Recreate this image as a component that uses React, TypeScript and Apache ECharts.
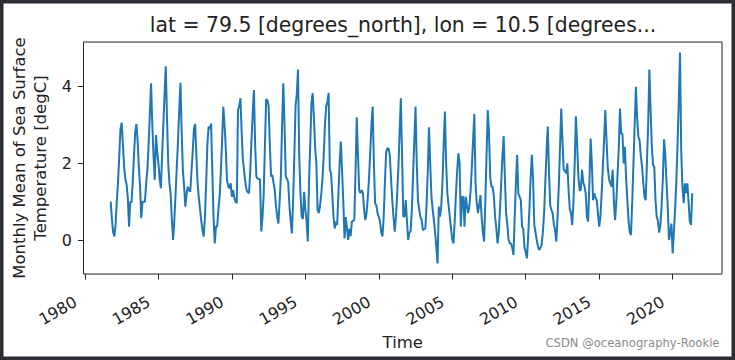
import React, { useEffect, useRef } from "react";
import * as echarts from "echarts";

// First monthly sample (decimal year) — monthly means from autumn 1981
const startYear = 1981.75;

// Monthly mean SST [degC], grouped by period
const sst1981to1989 = [
  1.0, 0.55, 0.2,
  0.09, 0.4, 1.0, 1.5, 2.2, 2.9, 3.06, 2.5, 1.9, 1.6, 1.45, 1.1,
  0.35, 1.0, 0.98, 1.5, 2.2, 2.8, 3.03, 2.6, 1.9, 1.4, 0.57, 1.0,
  1.0, 1.0, 1.5, 1.83, 2.5, 3.3, 4.09, 3.0, 2.2, 1.57, 2.74, 2.3,
  2.0, 1.6, 1.35, 2.2, 3.0, 3.8, 4.53, 3.2, 2.0, 1.48, 1.2, 0.5,
  0.0, 0.5, 1.2, 1.9, 2.6, 3.4, 4.1, 2.8, 1.8, 1.39, 0.87, 1.2,
  1.39, 1.3, 1.26, 1.8, 2.3, 2.9, 3.03, 2.2, 1.48, 1.1, 0.8, 0.5,
  0.25, 0.09, 0.6, 1.5, 2.5, 2.96, 2.9, 3.04, 1.8, 0.6, -0.09, 0.35,
  0.35, 0.8, 1.13, 1.78, 2.6, 3.48, 3.0, 2.4, 1.57, 1.4, 1.35, 1.48,
];

const sst1990s = [
  1.13, 1.3, 1.1, 1.0, 0.96, 3.39, 3.5, 3.7, 2.8, 2.09, 1.8, 1.5,
  1.3, 1.25, 1.22, 1.8, 2.6, 3.3, 3.91, 2.5, 1.65, 1.6, 1.6, 1.57,
  0.22, 0.6, 1.2, 2.5, 3.67, 3.65, 3.5, 2.5, 1.65, 1.7, 1.5, 1.3,
  0.9, 0.6, 0.43, 1.0, 1.65, 3.0, 4.09, 3.0, 1.65, 1.6, 1.5, 0.9,
  0.5, 0.17, 1.0, 2.2, 3.5, 3.8, 4.45, 2.2, 1.22, 0.61, 0.55, 1.26,
  0.8, 0.48, -0.04, 1.5, 2.5, 3.57, 3.83, 3.2, 2.4, 2.0, 0.78, 0.7,
  0.9, 1.2, 1.6, 2.2, 3.0, 3.48, 3.6, 3.84, 1.83, 1.74, 1.2, 0.6,
  0.3, 0.48, 0.39, 1.2, 2.0, 2.57, 1.8, 1.0, 0.04, 0.6, 0.3, 0.0,
  0.3, 0.1, 0.48, 0.5, 0.52, 1.8, 3.2, 2.2, 1.3, 1.22, 1.3, 1.22,
  0.8, 0.52, 0.7, 1.1, 1.6, 2.3, 3.0, 3.48, 2.0, 0.96, 0.9, 0.7,
];

const sst2000s = [
  0.6, 0.48, 0.2, 0.09, 0.6, 1.5, 2.3, 2.39, 2.39, 2.2, 1.6, 1.04,
  0.6, 0.22, 0.6, 1.2, 1.9, 2.8, 3.7, 2.2, 0.61, 0.61, 1.04, 0.5,
  0.0, 0.2, 0.22, 0.8, 1.7, 2.6, 3.48, 2.0, 1.04, 0.8, 0.6, 0.52,
  0.26, 0.28, 0.3, 0.9, 1.8, 2.94, 2.0, 1.13, 0.8, 0.52, 0.2, -0.2,
  -0.61, 0.87, 0.61, 0.87, 1.5, 2.5, 3.35, 2.0, 1.22, 0.9, 0.61, 0.3,
  0.0, -0.09, 0.5, 1.2, 1.8, 2.26, 2.0, 0.35, 1.13, 1.13, 0.35, 1.13,
  0.9, 0.7, 0.9, 1.3, 1.9, 2.6, 3.29, 1.5, 0.96, 0.7, 0.9, 1.17,
  0.6, 0.2, -0.04, 1.0, 2.2, 3.39, 2.8, 1.65, 1.39, 1.39, 1.13, 0.6,
  0.3, -0.09, 0.2, 0.8, 1.5, 2.2, 2.71, 1.6, 0.7, 0.4, 0.0, -0.09,
  -0.09, -0.2, -0.39, 0.6, 1.5, 2.22, 1.2, 1.13, 1.04, 0.35, 0.3, -0.2,
];

const sst2010to2021 = [
  -0.3, -0.48, 0.1, 0.8, 1.6, 2.22, 1.6, 0.4, 0.2, 0.0, -0.17, -0.26,
  -0.2, -0.13, 0.2, 0.7, 1.5, 2.3, 2.96, 1.8, 0.9, 0.78, 0.7, 0.4,
  0.26, -0.04, 0.6, 1.4, 2.4, 3.43, 2.6, 1.83, 1.8, 1.74, 2.0, 1.3,
  0.8, 0.7, 0.39, 1.0, 2.0, 3.23, 2.5, 1.65, 1.3, 1.3, 1.83, 1.5,
  1.4, 1.22, 0.6, 0.48, 1.5, 2.65, 2.0, 1.04, 1.22, 1.1, 1.04, 0.7,
  0.35, 0.6, 1.2, 1.9, 2.6, 3.39, 2.6, 1.91, 1.6, 1.48, 1.39, 1.83,
  1.0, 0.52, 1.0, 1.7, 2.4, 3.43, 2.78, 2.78, 2.0, 2.43, 1.6, 1.04,
  0.5, 0.2, 0.13, 1.0, 2.0, 3.0, 4.0, 3.2, 2.7, 2.6, 2.2, 1.91,
  1.5, 1.13, 1.04, 2.0, 3.0, 4.45, 3.4, 2.43, 1.96, 1.91, 1.04, 0.6,
  0.5, 0.19, 0.4, 0.9, 1.6, 2.63, 2.2, 1.5, 0.87, 0.0, 0.2, 0.43,
  -0.35, 0.2, 0.8, 1.5, 2.5, 3.6, 4.89, 2.35, 1.4, 0.96, 1.48, 1.22,
  1.48, 1.0, 0.5, 0.39, 1.22,
];

const xTickValues = [1980, 1985, 1990, 1995, 2000, 2005, 2010, 2015, 2020];
const yTickValues = [0, 2, 4];

const titleText = "lat = 79.5 [degrees_north], lon = 10.5 [degrees...";
const yAxisTitle = "Monthly Mean of Sea Surface\nTemperature [degC]";
const xAxisTitle = "Time";
const watermark = "CSDN @oceanography-Rookie";

const FONT = "DejaVu Sans";
const INK = "#222";

export default function App() {
  const ref = useRef<HTMLDivElement>(null);

  useEffect(() => {
    if (!ref.current) return;
    const chart = echarts.init(ref.current, undefined, { renderer: "svg" });
    const values = [...sst1981to1989, ...sst1990s, ...sst2000s, ...sst2010to2021];
    const data = values.map((v, i) => [startYear + i / 12, v]);

    chart.setOption({
      animation: false,
      backgroundColor: "#ffffff",
      grid: {
        left: 83.5,
        top: 42,
        width: 638.5,
        height: 232,
        show: true,
        borderColor: INK,
        borderWidth: 1,
        backgroundColor: "transparent",
        containLabel: false,
      },
      xAxis: {
        type: "value",
        min: 1979.9,
        max: 2023.36,
        name: xAxisTitle,
        nameLocation: "middle",
        nameGap: 55,
        nameTextStyle: { fontFamily: FONT, fontSize: 16.5, color: INK },
        axisLine: { show: false, onZero: false },
        splitLine: { show: false },
        axisTick: {
          show: true,
          length: 5.5,
          customValues: xTickValues,
          lineStyle: { color: INK, width: 1 },
        },
        axisLabel: {
          customValues: xTickValues,
          rotate: 30,
          margin: 21,
          padding: [0, 11, 0, 0],
          fontFamily: FONT,
          fontSize: 16,
          color: INK,
          formatter: (v: number) => String(Math.round(v)),
        },
      },
      yAxis: {
        type: "value",
        min: -0.887,
        max: 5.166,
        name: yAxisTitle,
        nameLocation: "middle",
        nameRotate: 90,
        nameGap: 25,
        nameTextStyle: { fontFamily: FONT, fontSize: 16.5, color: INK, lineHeight: 21 },
        axisLine: { show: false, onZero: false },
        splitLine: { show: false },
        axisTick: {
          show: true,
          length: 5.5,
          customValues: yTickValues,
          lineStyle: { color: INK, width: 1 },
        },
        axisLabel: {
          customValues: yTickValues,
          margin: 11.5,
          fontFamily: FONT,
          fontSize: 16,
          color: INK,
          formatter: (v: number) => String(Math.round(v)),
        },
      },
      series: [
        {
          type: "line",
          data,
          showSymbol: false,
          symbol: "none",
          lineStyle: { color: "#1f77b4", width: 2 },
          itemStyle: { color: "#1f77b4" },
        },
      ],
      graphic: [
        {
          type: "text",
          x: 403,
          y: 25,
          style: {
            text: titleText,
            fontFamily: FONT,
            fontSize: 20.4,
            fill: INK,
            textAlign: "center",
            textVerticalAlign: "middle",
          },
        },
        {
          type: "text",
          x: 719.5,
          y: 343,
          style: {
            text: watermark,
            fontFamily: FONT,
            fontSize: 11.6,
            fill: "#8c8c8c",
            textAlign: "right",
            textVerticalAlign: "middle",
          },
        },
        {
          type: "rect",
          shape: { x: 0, y: 0, width: 735, height: 360 },
          style: { fill: "none", stroke: "#2b2f33", lineWidth: 7 },
          silent: true,
        },
      ],
    });

    return () => chart.dispose();
  }, []);

  return (
    <div
      ref={ref}
      style={{ position: "fixed", left: 0, top: 0, width: 735, height: 360 }}
    />
  );
}
